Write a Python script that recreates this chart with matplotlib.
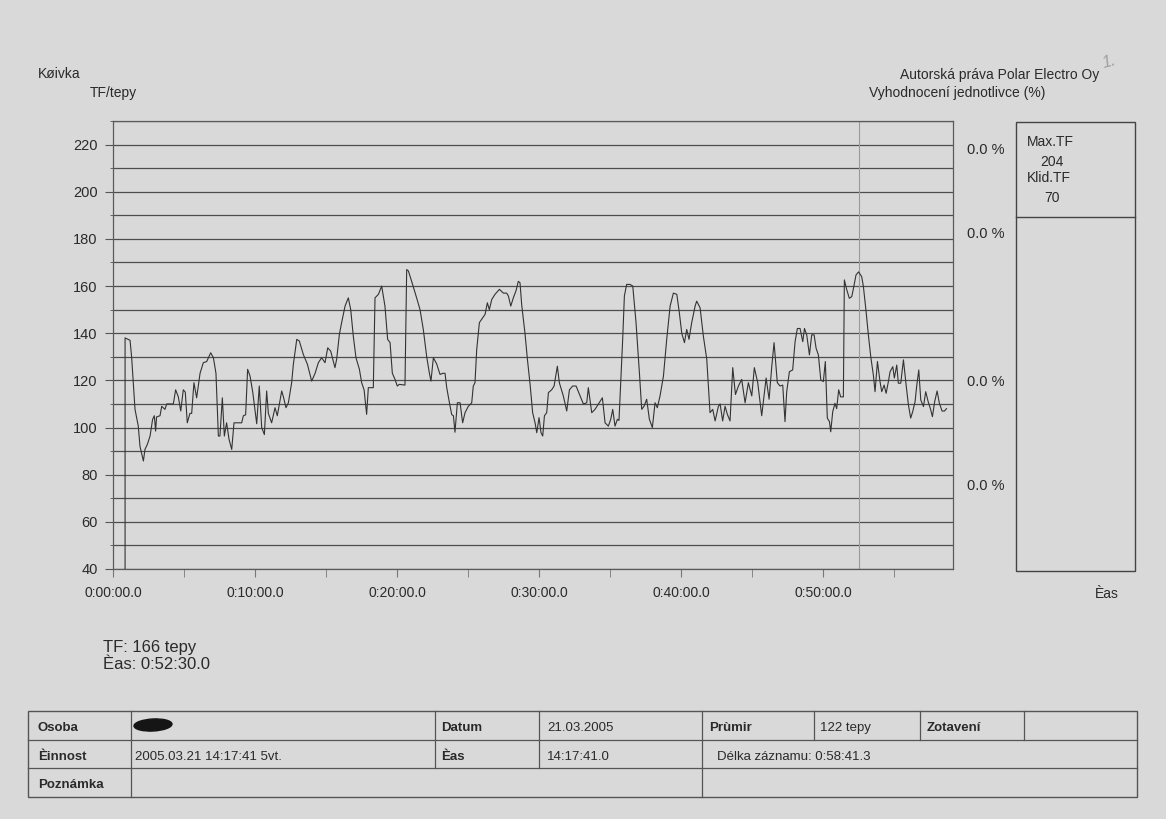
import matplotlib.pyplot as plt
from matplotlib.ticker import MultipleLocator, FuncFormatter
from matplotlib.patches import Rectangle, Ellipse

# data: heart rate curve (time in minutes, TF in bpm)
cas_min = [0.85, 0.85, 1.20, 1.31, 1.43, 1.55, 1.78, 1.90, 2.14, 2.25, 2.42, 2.61, 2.79, 2.91, 3.00, 3.07,
           3.31, 3.43, 3.66, 3.78, 4.25, 4.41, 4.60, 4.77, 4.95, 5.09, 5.23, 5.42, 5.54, 5.70, 5.89, 6.13,
           6.36, 6.60, 6.88, 7.07, 7.25, 7.42, 7.53, 7.70, 7.84, 8.00, 8.17, 8.36, 8.52, 8.71, 9.06, 9.18,
           9.34, 9.48, 9.65, 9.84, 10.12, 10.30, 10.47, 10.66, 10.82, 10.94, 11.17, 11.41, 11.57, 11.88,
           12.00, 12.18, 12.35, 12.58, 12.70, 12.94, 13.12, 13.40, 13.69, 13.99, 14.23, 14.46, 14.69, 14.93,
           15.12, 15.33, 15.63, 15.75, 15.94, 16.10, 16.34, 16.57, 16.74, 16.92, 17.11, 17.35, 17.51, 17.68,
           17.86, 17.98, 18.33, 18.45, 18.69, 18.92, 19.15, 19.34, 19.51, 19.67, 19.86, 20.02, 20.16, 20.56,
           20.68, 20.80, 21.03, 21.38, 21.62, 21.85, 22.09, 22.28, 22.39, 22.56, 22.79, 23.03, 23.22, 23.38,
           23.50, 23.69, 23.85, 23.97, 24.08, 24.25, 24.44, 24.62, 24.79, 25.02, 25.26, 25.37, 25.49, 25.61,
           25.80, 25.96, 26.20, 26.36, 26.50, 26.67, 26.90, 27.21, 27.49, 27.72, 27.84, 28.01, 28.19, 28.38,
           28.54, 28.66, 28.78, 29.01, 29.18, 29.37, 29.55, 29.72, 29.84, 30.00, 30.14, 30.26, 30.38, 30.54,
           30.66, 30.89, 31.06, 31.29, 31.43, 31.71, 31.95, 32.14, 32.37, 32.61, 32.89, 33.12, 33.36, 33.47,
           33.71, 33.94, 34.18, 34.46, 34.65, 34.88, 35.05, 35.19, 35.35, 35.52, 35.63, 35.75, 35.89, 36.01,
           36.17, 36.41, 36.60, 36.83, 37.07, 37.23, 37.39, 37.58, 37.77, 37.98, 38.17, 38.33, 38.52, 38.76,
           38.99, 39.23, 39.46, 39.70, 39.88, 40.05, 40.24, 40.40, 40.56, 40.75, 40.99, 41.10, 41.34, 41.57,
           41.81, 42.04, 42.23, 42.40, 42.63, 42.75, 42.93, 43.10, 43.26, 43.45, 43.64, 43.83, 44.04, 44.27,
           44.51, 44.74, 44.98, 45.16, 45.40, 45.68, 45.99, 46.20, 46.39, 46.55, 46.78, 46.97, 47.16, 47.32,
           47.44, 47.63, 47.86, 48.03, 48.19, 48.38, 48.57, 48.69, 48.85, 49.04, 49.20, 49.37, 49.51, 49.67,
           49.84, 50.02, 50.16, 50.30, 50.45, 50.54, 50.68, 50.84, 50.96, 51.10, 51.24, 51.43, 51.50, 51.67,
           51.85, 52.02, 52.14, 52.32, 52.50, 52.72, 52.84, 53.03, 53.19, 53.36, 53.54, 53.66, 53.83, 54.01,
           54.13, 54.30, 54.44, 54.60, 54.72, 54.91, 55.02, 55.19, 55.30, 55.47, 55.66, 55.85, 56.01, 56.17,
           56.31, 56.48, 56.60, 56.74, 56.88, 57.07, 57.23, 57.40, 57.56, 57.70, 57.86, 58.03, 58.19, 58.38,
           58.55, 58.69]
tf = [0, 138, 137, 130, 119, 107.7, 100.6, 92, 85.8, 90.7, 92.9, 96.4, 103.5, 105, 98.5, 104.5,
      105, 109, 107.7, 110, 110, 116, 113, 107, 116, 115, 102, 106, 106, 119, 112.6, 123,
      127.5, 128, 131.7, 129.6, 123, 96.4, 96.4, 112.6, 96.4, 102, 95, 90.7, 102, 102, 102, 105,
      105.4, 124.7, 121.8, 115, 101.6, 117.6, 100, 97, 115.5, 106, 102, 108.4, 105, 115.5,
      113, 108.4, 110.5, 119, 126.8, 137.4, 136.7, 131, 126.8, 119.7, 123, 127.5, 129.6, 127.5,
      133.8, 132.4, 125.4, 129, 139.5, 144.5, 151.5, 155, 150, 138.8, 129.6, 124.7, 119, 116,
      105.6, 116.9, 116.9, 155, 156.5, 160, 151.5, 137.4, 136, 123, 120.4, 117.6, 118.3, 118,
      167, 166.4, 162, 155, 150, 141.6, 130, 123, 119.7, 129.6, 127, 122.5, 123, 123,
      116.9, 110.5, 105.5, 105, 98, 110.5, 110.5, 102, 106.3, 109, 110.5, 117.6, 119, 133,
      144.5, 145.9, 148, 152.9, 150, 154.3, 156.5, 158.6, 157, 157, 155.8, 151.5, 155, 158,
      162, 161.4, 152, 140, 129, 118.3, 106.3, 102, 97.8, 104.2, 97.8, 96.4, 105, 106.3,
      114.8, 116, 117.6, 126, 119, 113.4, 107, 116, 117.6, 117.6, 113.4, 110, 110.5, 116.9,
      106.3, 107.7, 110, 112.6, 102, 100.6, 103.5, 107.7, 100.6, 103.5, 103, 119, 137.4, 155.8,
      160.7, 160.7, 160, 144.5, 123, 107.7, 109, 112, 103.5, 100, 110.5, 108.4, 113.4, 121.8,
      137.4, 151.5, 157, 156.5, 148.7, 140, 136, 141.6, 137.4, 144.5, 151.5, 153.6, 150.8, 138.8,
      129, 106.3, 107.7, 102.8, 109, 110, 102.8, 109, 105.6, 102.8, 125.4, 114, 117.6, 120.4,
      110.5, 119, 113.4, 125.4, 119, 105, 121, 112, 126, 136, 119, 117.6, 118, 102.5,
      115.2, 123.7, 124.4, 136.4, 142, 142, 136.4, 142, 139.3, 130.8, 139.3, 139.3, 133.6, 130.8,
      120.2, 119.5, 128, 104, 102.5, 98.2, 106.7, 110.3, 108, 116, 113, 113, 162.6, 158.4,
      154.8, 155.5, 159, 164.7, 166, 164, 159.8, 149.2, 139.3, 130, 122.3, 115.2, 128, 119.5,
      115.2, 118, 114.5, 119.5, 123.7, 125.8, 121, 126.5, 118.8, 118.8, 128.7, 118, 109.6, 104,
      106.7, 111, 118, 124.4, 111.7, 108.9, 115.2, 111, 108, 104.6, 111, 115.5, 110.3, 107,
      107, 108]

kurzor_min = 52.5
zony_y = [148, 232, 380, 484]          # "0.0 %" labels
zony_text = ['0.0 %', '0.0 %', '0.0 %', '0.0 %']

W, H = 1166, 819
bg = '#d9d9d9'
ink = '#2a2a2a'
plt.rcParams['font.family'] = ['Liberation Sans', 'DejaVu Sans']

fig = plt.figure(figsize=(W / 100, H / 100), dpi=100, facecolor=bg)

# page overlay in pixel coordinates
page = fig.add_axes([0, 0, 1, 1], facecolor='none')
page.set_xlim(0, W)
page.set_ylim(H, 0)
page.axis('off')

# main chart
ax = fig.add_axes([113 / W, 1 - 569 / H, (953 - 113) / W, (569 - 121) / H], facecolor=bg)
ax.plot(cas_min, tf, color='#333333', lw=0.8, zorder=3)
ax.axvline(kurzor_min, color='#9a9a9a', lw=0.8, zorder=2)
ax.set_xlim(0, 59.15)
ax.set_ylim(40, 230)
ax.yaxis.set_major_locator(MultipleLocator(20))
ax.yaxis.set_minor_locator(MultipleLocator(10))
ax.xaxis.set_major_locator(MultipleLocator(10))
ax.xaxis.set_minor_locator(MultipleLocator(5))
ax.xaxis.set_major_formatter(FuncFormatter(lambda v, p: '%d:%02d:00.0' % (v // 60, v % 60)))
ax.grid(axis='y', which='both', color='#4d4d4d', lw=0.9)
ax.tick_params(axis='y', which='major', length=6, pad=5, labelsize=10.5, colors='#555555', labelcolor=ink)
ax.tick_params(axis='y', which='minor', length=2.5, colors='#555555')
ax.tick_params(axis='x', which='both', length=6, pad=6, labelsize=10, colors='#777777', labelcolor=ink)
for s in ax.spines.values():
    s.set_color('#5a5a5a')
    s.set_linewidth(0.9)

# header texts
page.text(38, 73, 'Køivka', fontsize=10, color=ink, va='center_baseline')
page.text(90, 91, 'TF/tepy', fontsize=10, color=ink, va='center_baseline')
page.text(1099, 73, 'Autorská práva Polar Electro Oy', fontsize=10, color=ink, va='center_baseline', ha='right')
page.text(869, 92, 'Vyhodnocení jednotlivce (%)', fontsize=10, color=ink, va='center_baseline')
page.text(1100, 62, '1.', fontsize=12, color='#a0a0a0', style='italic', va='center', rotation=15)

# zone percentages and box
for y, t in zip(zony_y, zony_text):
    page.text(967, y, t, fontsize=10.5, color=ink, va='center_baseline')
page.add_patch(Rectangle((1016, 122), 1135 - 1016, 571 - 122, fill=False, ec='#444444', lw=1))
page.plot([1016, 1135], [217, 217], color='#444444', lw=1)
page.text(1027, 141, 'Max.TF', fontsize=10, color=ink, va='center_baseline')
page.text(1040, 161, '204', fontsize=10, color=ink, va='center_baseline')
page.text(1027, 177, 'Klid.TF', fontsize=10, color=ink, va='center_baseline')
page.text(1044, 197, '70', fontsize=10, color=ink, va='center_baseline')
page.text(1107, 593, 'Èas', fontsize=10, color=ink, va='center_baseline', ha='center')

# cursor readout
page.text(103, 646, 'TF: 166 tepy', fontsize=12, color=ink, va='center_baseline')
page.text(103, 663, 'Èas: 0:52:30.0', fontsize=12, color=ink, va='center_baseline')

# bottom table
lc = '#555555'
rows = [711, 740, 768, 797]
page.add_patch(Rectangle((28, 711), 1137 - 28, 797 - 711, fill=False, ec=lc, lw=1))
for y in rows[1:3]:
    page.plot([28, 1137], [y, y], color=lc, lw=0.9)
for x in [131, 435, 539, 702, 814, 920, 1024]:
    page.plot([x, x], [711, 740], color=lc, lw=0.9)
for x in [131, 435, 539, 702]:
    page.plot([x, x], [740, 768], color=lc, lw=0.9)
for x in [131, 702]:
    page.plot([x, x], [768, 797], color=lc, lw=0.9)

cells = [
    (38, 0, 'Osoba', 'bold'), (441, 0, 'Datum', 'bold'), (547, 0, '21.03.2005', 'normal'),
    (709, 0, 'Prùmir', 'bold'), (820, 0, '122 tepy', 'normal'), (927, 0, 'Zotavení', 'bold'),
    (38, 1, 'Èinnost', 'bold'), (135, 1, '2005.03.21 14:17:41 5vt.', 'normal'),
    (441, 1, 'Èas', 'bold'), (547, 1, '14:17:41.0', 'normal'),
    (717, 1, 'Délka záznamu: 0:58:41.3', 'normal'),
    (38, 2, 'Poznámka', 'bold'),
]
for x, r, t, w in cells:
    page.text(x, (rows[r] + rows[r + 1]) / 2 + 1, t, fontsize=9.5, color=ink,
              va='center_baseline', weight=w)

# redacted name
page.add_patch(Ellipse((153, 725), 38, 12, color='#151515', angle=-3))

fig.savefig('out.png', dpi=100, facecolor=bg)
